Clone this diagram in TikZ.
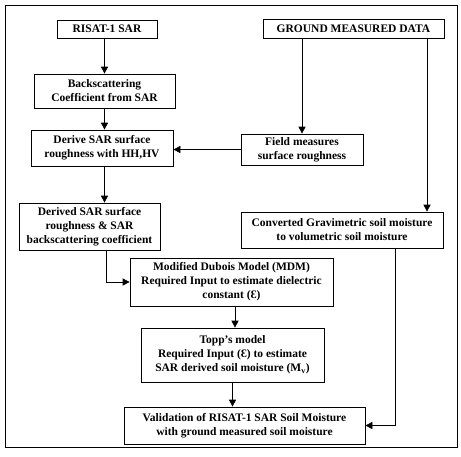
\documentclass[tikz,border=0pt]{standalone}
\usepackage{fontspec}
\setmainfont{Liberation Serif}
\usetikzlibrary{arrows.meta,calc}
\begin{document}
\begin{tikzpicture}[x=1pt,y=-1pt,
  box/.style={draw,line width=0.7pt,align=center,inner sep=1pt,font=\bfseries\fontsize{11.5}{14}\selectfont},
  arr/.style={line width=0.7pt,-{Triangle[length=7pt,width=7pt]}},
  ln/.style={line width=0.7pt}]
\useasboundingbox (0,0) rectangle (461,456);
\draw[line width=0.7pt] (5,5) rectangle (457,447);
\node[box,minimum width=100pt,minimum height=18pt] (risat) at (107,29) {RISAT-1 SAR};
\node[box,minimum width=181pt,minimum height=19pt] (ground) at (353.5,28.5) {GROUND MEASURED DATA};
\node[box,minimum width=141pt,minimum height=34pt] (back) at (104.5,91) {Backscattering\\Coefficient from SAR};
\node[box,minimum width=142pt,minimum height=36pt] (derive) at (102,148) {Derive SAR surface\\roughness with HH,HV};
\node[box,minimum width=122pt,minimum height=31pt] (field) at (302,149.5) {Field measures\\surface roughness};
\node[box,minimum width=141pt,minimum height=47pt] (derived) at (89.5,226.5) {Derived SAR surface\\roughness \& SAR\\backscattering coefficient};
\node[box,minimum width=202pt,minimum height=36pt] (conv) at (342,230) {Converted Gravimetric soil moisture\\to volumetric soil moisture};
\node[box,minimum width=203pt,minimum height=48pt] (mdm) at (231.5,282) {Modified Dubois Model (MDM)\\Required Input to estimate dielectric\\constant (Ɛ)};
\node[box,minimum width=183pt,minimum height=54pt] (topp) at (232.5,355) {Topp’s model\\Required Input (Ɛ) to estimate\\SAR derived soil moisture (M\textsubscript{v})};
\node[box,minimum width=241pt,minimum height=37pt] (valid) at (244.5,425.5) {Validation of RISAT-1 SAR Soil Moisture\\with ground measured soil moisture};
\coordinate (gx) at (427,0);
\coordinate (dx) at (106,0);
\coordinate (cx) at (395,0);
\coordinate (tx) at (235,0);
\draw[arr] (risat.south -| back.north) -- (back.north);
\draw[arr] (back.south) -- (back.south |- derive.north);
\draw[arr] (derive.south -| back.south) -- (derived.north -| back.south);
\draw[arr] (ground.south -| field.north) -- (field.north);
\draw[arr] (ground.south -| gx) -- (conv.north -| gx);
\draw[arr] (field.west) -- (field.west -| derive.east);
\draw[arr] (derived.south -| dx) |- (mdm.west);
\draw[arr] (mdm.south -| tx) -- (topp.north -| tx);
\draw[arr] (topp.south) -- (topp.south |- valid.north);
\draw[arr] (conv.south -| cx) |- (valid.east);
\end{tikzpicture}
\end{document}
